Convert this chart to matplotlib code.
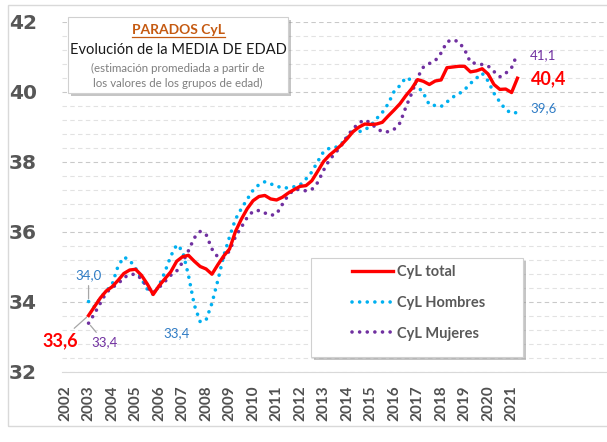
import numpy as np
import matplotlib.pyplot as plt
from matplotlib.patches import Rectangle
from matplotlib.lines import Line2D
import matplotlib.patheffects as pe

plt.rcParams['font.family'] = ['Lato', 'DejaVu Sans']

# quarterly series, first value = 2003 Q1
start_year = 2003
total = [33.6, 33.85, 34.1, 34.3, 34.42, 34.6, 34.8, 34.9, 34.92, 34.75,
         34.5, 34.2, 34.45, 34.65, 34.85, 35.15, 35.28, 35.32, 35.15, 35.0,
         34.93, 34.78, 35.05, 35.3, 35.5, 36.0, 36.35, 36.65, 36.88, 37.0,
         37.03, 36.93, 36.9, 36.98, 37.1, 37.2, 37.29, 37.31, 37.45, 37.72,
         38.0, 38.18, 38.32, 38.47, 38.65, 38.85, 38.98, 39.07, 39.06, 39.07,
         39.12, 39.3, 39.47, 39.65, 39.88, 40.08, 40.34, 40.29, 40.2, 40.3,
         40.33, 40.68, 40.7, 40.72, 40.72, 40.56, 40.59, 40.65, 40.5, 40.2,
         40.06, 40.07, 39.97, 40.38]
hombres = [34.0, 33.85, 34.1, 34.3, 34.48, 35.0, 35.27, 35.18, 34.95, 34.65,
           34.35, 34.2, 34.45, 34.85, 35.3, 35.62, 35.45, 34.75, 33.9, 33.42,
           33.47, 33.95, 34.6, 35.3, 35.85, 36.35, 36.65, 36.92, 37.18, 37.34,
           37.42, 37.36, 37.3, 37.24, 37.25, 37.28, 37.33, 37.5, 37.7, 38.0,
           38.28, 38.38, 38.4, 38.5, 38.68, 38.86, 38.85, 38.9, 39.02, 39.22,
           39.4, 39.65, 40.0, 40.17, 40.4, 40.32, 40.15, 39.95, 39.62, 39.6,
           39.57, 39.7, 39.84, 39.93, 40.05, 40.23, 40.38, 40.52, 40.3, 39.95,
           39.7, 39.48, 39.38, 39.4]
mujeres = [33.38, 33.65, 33.95, 34.25, 34.4, 34.5, 34.68, 34.77, 34.78, 34.65,
           34.4, 34.25, 34.4, 34.57, 34.75, 34.87, 35.12, 35.45, 35.82, 36.0,
           35.92, 35.5, 35.27, 35.25, 35.45, 35.85, 36.12, 36.4, 36.58, 36.6,
           36.53, 36.46, 36.5, 36.78, 37.04, 37.2, 37.2, 37.16, 37.2, 37.4,
           37.75, 38.05, 38.24, 38.45, 38.72, 38.93, 39.1, 39.19, 39.1, 38.95,
           38.85, 38.85, 38.92, 39.1, 39.55, 39.95, 40.4, 40.7, 40.8, 40.88,
           41.1, 41.42, 41.48, 41.42, 41.2, 40.83, 40.8, 40.77, 40.73, 40.57,
           40.42, 40.52, 40.68, 41.08]
years = list(range(2002, 2022))
yticks = list(range(32, 43, 2))

t = start_year + np.arange(len(total)) / 4

W, H = 607, 442
fig = plt.figure(figsize=(W / 100, H / 100), dpi=100)


def fx(px):
    return px / W


def fy(py):
    return 1 - py / H


# outer chart border
fig.patches.append(Rectangle((fx(8), fy(426)), fx(620) - fx(8), fy(5) - fy(426),
                             transform=fig.transFigure, fill=False,
                             edgecolor='#D9D9D9', lw=1))

ax = fig.add_axes([fx(62), fy(371.5), fx(607) - fx(62), fy(21.5) - fy(371.5)])
ax.set_xlim(2001.87, 2025.06)
ax.set_ylim(32, 42)

ax.tick_params(axis='y', which='both', length=0, pad=18)
ax.tick_params(axis='x', length=0, pad=10)
ax.set_yticks(np.arange(32, 42.01, 0.4), minor=True)
ax.set_yticks(yticks)
ax.set_yticklabels([str(v) for v in yticks])
ax.set_xticks(years)
ax.set_xticklabels([str(y) for y in years], rotation=90)
plt.setp(ax.get_yticklabels(), fontsize=14.5, fontweight='bold',
         family='DejaVu Sans', color='#575757')
plt.setp(ax.get_xticklabels(), fontsize=11, fontweight='bold', color='#505050')

ax.grid(which='minor', axis='y', ls=(0, (4, 3)), color='#E2E2E2', lw=0.8)
ax.grid(which='major', axis='y', ls=(0, (4, 3)), color='#C9C9C9', lw=0.8)
ax.set_axisbelow(True)
for s in ['top', 'right', 'left']:
    ax.spines[s].set_visible(False)
ax.spines['bottom'].set_color('#D9D9D9')

dots = (0, (0.01, 2.1))
ax.plot(t, hombres, color='#00B0F0', lw=2.6, ls=dots, dash_capstyle='round',
        label='CyL Hombres', zorder=3)
ax.plot(t, mujeres, color='#7030A0', lw=2.6, ls=dots, dash_capstyle='round',
        label='CyL Mujeres', zorder=3)
ax.plot(t, total, color='#FF0000', lw=2.4, solid_joinstyle='round',
        label='CyL total', zorder=4)

# value labels
blue_txt = '#2E7BC4'
lead = dict(arrowstyle='-', color='#A6A6A6', lw=0.9, shrinkA=1, shrinkB=2)
ax.annotate('33,6', xy=(t[0], total[0]), xytext=(-28, -25), textcoords='offset pixels',
            ha='center', va='center', fontsize=13, fontweight='bold', color='#FF0000',
            arrowprops=lead)
ax.annotate('34,0', xy=(t[0], hombres[0]), xytext=(0, 26), textcoords='offset pixels',
            ha='center', va='center', fontsize=9.5, color=blue_txt, arrowprops=lead)
ax.annotate('33,4', xy=(t[0], mujeres[0]), xytext=(16, -19), textcoords='offset pixels',
            ha='center', va='center', fontsize=9.5, color='#7030A0', arrowprops=lead)
imin = int(np.argmin(hombres))
ax.annotate('33,4', xy=(t[imin], hombres[imin]), xytext=(-24, -11),
            textcoords='offset pixels', ha='center', va='center', fontsize=9.5,
            color=blue_txt)
ax.annotate('41,1', xy=(t[-1], mujeres[-1]), xytext=(26, -1), textcoords='offset pixels',
            ha='center', va='center', fontsize=9.5, color='#7030A0')
ax.annotate('40,4', xy=(t[-1], total[-1]), xytext=(31, -1), textcoords='offset pixels',
            ha='center', va='center', fontsize=13, fontweight='bold', color='#FF0000')
ax.annotate('39,6', xy=(t[-1], hombres[-1]), xytext=(26, 4), textcoords='offset pixels',
            ha='center', va='center', fontsize=9.5, color=blue_txt)

shadow = [pe.withSimplePatchShadow(offset=(2, -2), shadow_rgbFace='#8C8C8C', alpha=0.5)]

# title box
ax.add_patch(Rectangle((fx(68), fy(93)), fx(288) - fx(68), fy(17) - fy(93),
                       transform=fig.transFigure, clip_on=False, facecolor='white',
                       edgecolor='#D0D0D0', lw=0.8, zorder=5, path_effects=shadow))
ttl = ax.text(fx(178), fy(30), 'PARADOS CyL', transform=fig.transFigure, ha='center',
              va='center', fontsize=10, fontweight='bold', color='#C55A11', zorder=6)
ax.text(fx(178), fy(50), 'Evolución de la MEDIA DE EDAD', transform=fig.transFigure,
        ha='center', va='center', fontsize=10.5, color='#1A1A1A', zorder=6)
ax.text(fx(178), fy(68), '(estimación promediada a partir de', transform=fig.transFigure,
        ha='center', va='center', fontsize=8.3, color='#7F7F7F', zorder=6)
ax.text(fx(178), fy(83), 'los valores de los grupos de edad)', transform=fig.transFigure,
        ha='center', va='center', fontsize=8.3, color='#7F7F7F', zorder=6)

# legend box
ax.add_patch(Rectangle((fx(311), fy(357)), fx(523) - fx(311), fy(258) - fy(357),
                       transform=fig.transFigure, clip_on=False, facecolor='white',
                       edgecolor='#D0D0D0', lw=0.8, zorder=5, path_effects=shadow))
leg = ax.legend(handles=[ax.lines[2], ax.lines[0], ax.lines[1]], frameon=False,
                loc='upper left', bbox_to_anchor=(fx(352), fy(265)),
                bbox_transform=fig.transFigure, borderaxespad=0, borderpad=0,
                handlelength=2.8, handletextpad=0.3, labelspacing=1.15,
                prop={'weight': 'bold', 'size': 10.5}, labelcolor='#595959')
leg.set_zorder(7)

# underline for the title
fig.canvas.draw()
bb = ttl.get_window_extent().transformed(fig.transFigure.inverted())
fig.lines.append(Line2D([bb.x0, bb.x1], [bb.y0 - 0.002, bb.y0 - 0.002],
                        transform=fig.transFigure, color='#C55A11', lw=0.9, zorder=6))

fig.savefig('out.png', dpi=100)
